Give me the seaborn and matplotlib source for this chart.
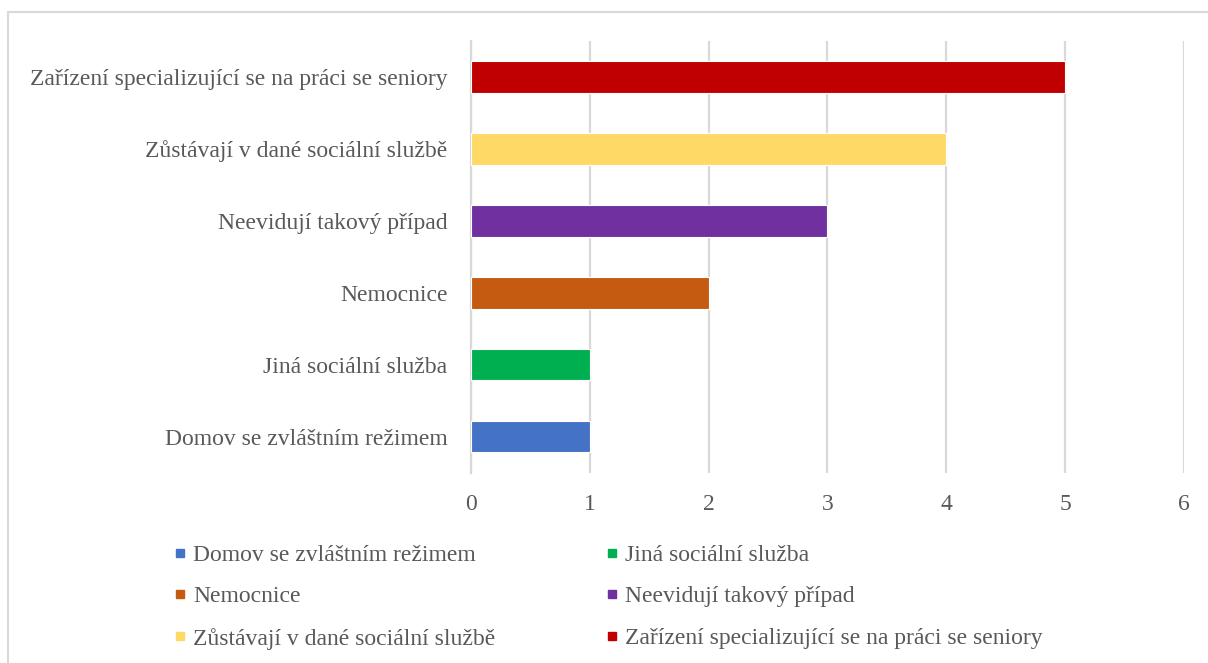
import numpy as np
import pandas as pd
import matplotlib
matplotlib.use('Agg')
import matplotlib.pyplot as plt
from matplotlib.lines import Line2D
from matplotlib.patches import Rectangle
import seaborn as sns

categories = ['Zařízení specializující se na práci se seniory',
              'Zůstávají v dané sociální službě',
              'Neevidují takový případ',
              'Nemocnice',
              'Jiná sociální služba',
              'Domov se zvláštním režimem']
counts = [5, 4, 3, 2, 1, 1]
colors = ['#C00000', '#FFD966', '#7030A0', '#C55A11', '#00B050', '#4472C4']
xticks = [0, 1, 2, 3, 4, 5, 6]

sns.set_theme(style='white')
plt.rcParams['font.family'] = ['Liberation Serif', 'DejaVu Serif']
txt = '#595959'
grid = '#D9D9D9'
fs = 17

df = pd.DataFrame({'cat': categories, 'n': counts})

fig = plt.figure(figsize=(12.08, 6.63), dpi=100)
ax = fig.add_axes([0.390, 0.287, 0.590, 0.651])

sns.barplot(data=df, y='cat', x='n', hue='cat', palette=colors, order=categories,
            hue_order=categories, legend=False, width=0.435, saturation=1, ax=ax,
            edgecolor='white', linewidth=0.8, zorder=3)

ax.set_xlim(0, 6)
ax.set_ylim(len(categories) - 0.5, -0.5)
ax.set_xticks(xticks)
ax.set_xticklabels([str(t) for t in xticks])
ax.grid(axis='x', color=grid, linewidth=1.6, zorder=0)
ax.set_axisbelow(True)
ax.set_xlabel('')
ax.set_ylabel('')
for s in ['top', 'right', 'bottom']:
    ax.spines[s].set_visible(False)
ax.spines['left'].set_color(grid)
ax.spines['left'].set_linewidth(1.6)
ax.tick_params(axis='x', length=0, pad=15, labelsize=fs, labelcolor=txt)
ax.tick_params(axis='y', which='major', length=0, pad=17, labelsize=fs, labelcolor=txt)
ax.set_yticks(np.arange(-0.5, len(categories), 1.0), minor=True)
ax.tick_params(axis='y', which='minor', length=6, width=1.6, color=grid)

# legend, row order as in reference
leg_order = [5, 3, 1, 4, 2, 0]
handles = [Line2D([], [], marker='s', linestyle='', markersize=5.5,
                  markerfacecolor=colors[i], markeredgecolor=colors[i]) for i in leg_order]
labels = [categories[i] for i in leg_order]
fig.legend(handles, labels, ncol=2, loc='upper left', bbox_to_anchor=(0.1265, 0.211),
           frameon=False, fontsize=fs, labelcolor=txt, handlelength=0.5,
           handletextpad=0.3, columnspacing=4.7, labelspacing=0.85)

fig.patches.append(Rectangle((8 / 1208, -0.1), 1.2, 1 - 12 / 663 + 0.1,
                             transform=fig.transFigure, fill=False,
                             edgecolor=grid, linewidth=1.5))

fig.savefig('out.png', dpi=100)
